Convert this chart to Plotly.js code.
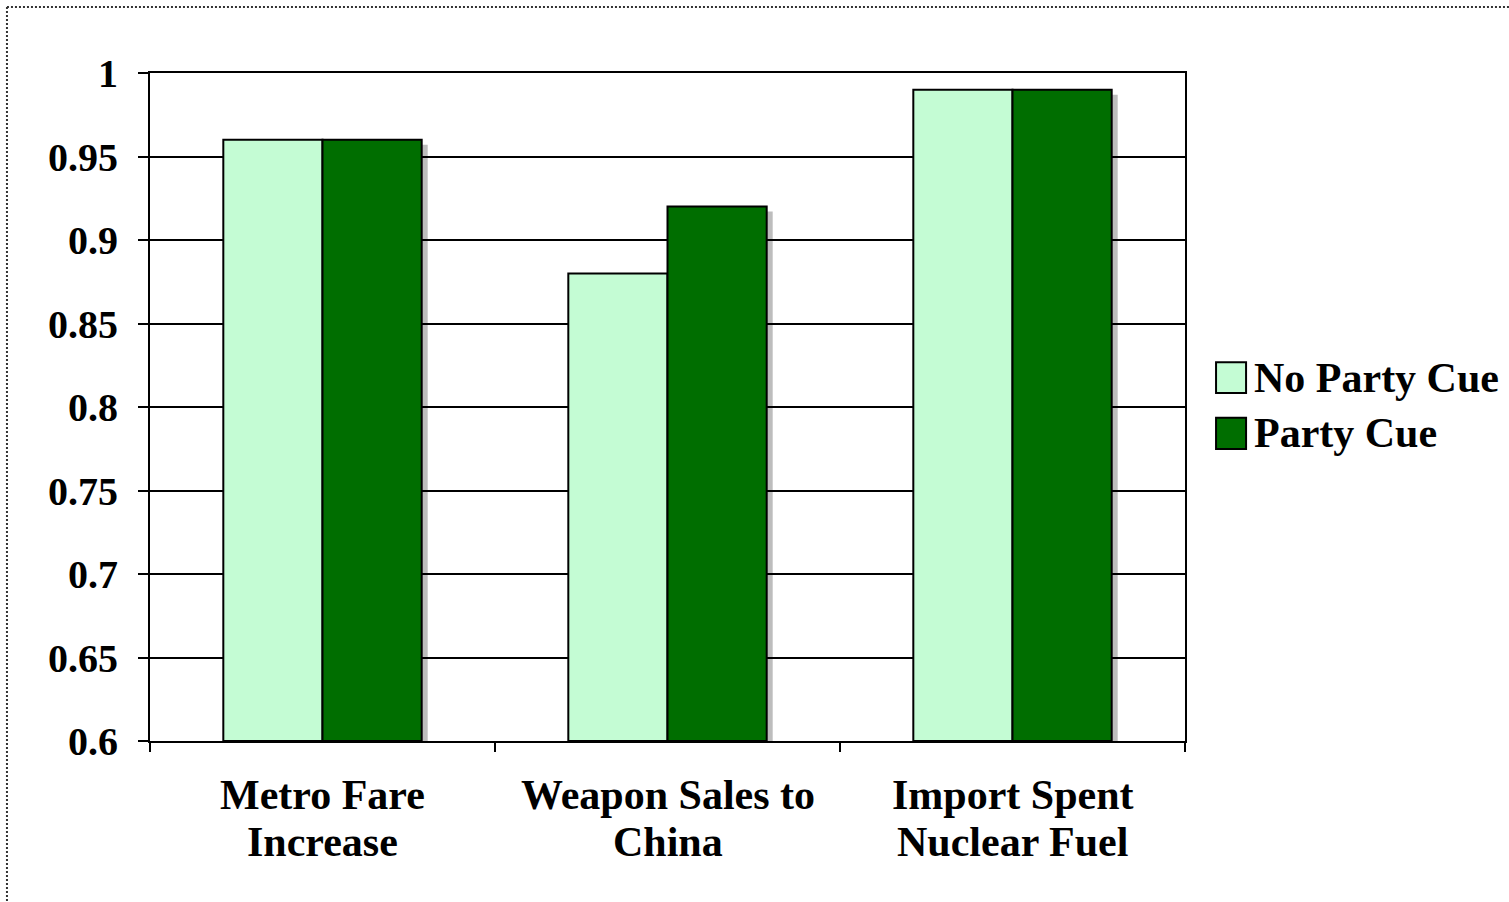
<!DOCTYPE html>
<html>
<head>
<meta charset="utf-8">
<script src="https://cdn.plot.ly/plotly-3.0.1.min.js"></script>
<style>
  html, body { margin: 0; padding: 0; background: #ffffff; }
  #chart { width: 1509px; height: 902px; }
</style>
</head>
<body>
<div id="chart"></div>
<script>
// ---- data ----
const categories = ['Metro Fare Increase', 'Weapon Sales to China', 'Import Spent Nuclear Fuel'];
const labelLine1 = ['Metro Fare', 'Weapon Sales to', 'Import Spent'];
const labelLine2 = ['Increase', 'China', 'Nuclear Fuel'];
const seriesNames = ['No Party Cue', 'Party Cue'];
const noPartyCue = [0.96, 0.88, 0.99];
const partyCue = [0.96, 0.92, 0.99];
const yTickValues = [0.6, 0.65, 0.7, 0.75, 0.8, 0.85, 0.9, 0.95, 1];
const yRange = [0.6, 1];

// ---- style ----
const lightGreen = '#C4FCD4';
const darkGreen = '#006E00';
const fontFamily = '"Liberation Serif", "Times New Roman", serif';
const bargap = 0.425;
const shadowDrop = 0.003;
const boldFont = (size) => ({ family: fontFamily, size: size, color: '#000000', weight: 'bold' });

const traces = [
  {
    type: 'bar', name: seriesNames[0], x: categories, y: noPartyCue, base: yRange[0],
    marker: { color: lightGreen, line: { color: '#000000', width: 2 } },
    hoverinfo: 'none', showlegend: false
  },
  {
    type: 'bar', name: seriesNames[1], x: categories, y: partyCue, base: yRange[0],
    marker: { color: darkGreen, line: { color: '#000000', width: 2 } },
    hoverinfo: 'none', showlegend: false
  }
];
// bars rise from the axis minimum
traces[0].y = noPartyCue.map(v => v - yRange[0]);
traces[1].y = partyCue.map(v => v - yRange[0]);
traces.forEach(t => { delete t.base; });

const shapes = [];
// bar shadows (right of the Party Cue bar)
partyCue.forEach((v, i) => {
  shapes.push({
    type: 'rect', layer: 'below',
    xref: 'x', xsizemode: 'pixel', xanchor: i + (1 - bargap) / 2,
    x0: -20, x1: 6,
    yref: 'y', y0: 0, y1: v - yRange[0] - shadowDrop,
    fillcolor: '#BDBDBD', line: { width: 0 }
  });
});
// dotted frame (top and left)
shapes.push({ type: 'line', xref: 'paper', yref: 'paper', x0: -0.1382, x1: 1.32, y0: 1.0988, y1: 1.0988,
  line: { color: '#333333', width: 2, dash: '2px,2px' } });
shapes.push({ type: 'line', xref: 'paper', yref: 'paper', x0: -0.1382, x1: -0.1382, y0: 1.0988, y1: -0.25,
  line: { color: '#333333', width: 2, dash: '2px,2px' } });

const annotations = [];
// custom legend
const legendColors = [lightGreen, darkGreen];
const legendY = [[0.521, 0.567], [0.437, 0.484]];
seriesNames.forEach((name, k) => {
  shapes.push({ type: 'rect', xref: 'paper', yref: 'paper', x0: 1.030, x1: 1.059,
    y0: legendY[k][0], y1: legendY[k][1], fillcolor: legendColors[k],
    line: { color: '#000000', width: 2 } });
  annotations.push({ xref: 'paper', yref: 'paper', x: 1.0648, y: (legendY[k][0] + legendY[k][1]) / 2,
    xanchor: 'left', yanchor: 'middle', showarrow: false, text: name, font: boldFont(42) });
});
// category labels (two lines each)
categories.forEach((c, i) => {
  annotations.push({ xref: 'x', yref: 'paper', x: c, y: -0.0808, xanchor: 'center', yanchor: 'middle',
    showarrow: false, text: labelLine1[i], font: boldFont(42) });
  annotations.push({ xref: 'x', yref: 'paper', x: c, y: -0.1512, xanchor: 'center', yanchor: 'middle',
    showarrow: false, text: labelLine2[i], font: boldFont(42) });
});

const layout = {
  width: 1509, height: 902,
  margin: { l: 150, r: 324, t: 73, b: 161, pad: 0 },
  paper_bgcolor: '#ffffff', plot_bgcolor: '#ffffff',
  barmode: 'group', bargap: bargap, bargroupgap: 0,
  showlegend: false,
  font: { family: fontFamily, color: '#000000' },
  xaxis: {
    type: 'category', tickson: 'boundaries', showticklabels: false,
    ticks: 'outside', ticklen: 9, tickwidth: 2, tickcolor: '#000000',
    showline: true, linecolor: '#000000', linewidth: 2, mirror: true,
    showgrid: false, zeroline: false
  },
  yaxis: {
    range: [0, yRange[1] - yRange[0]],
    tickvals: yTickValues.map(v => v - yRange[0]),
    ticktext: yTickValues.map(v => String(v)),
    ticks: 'outside', ticklen: 10, tickwidth: 2, tickcolor: '#000000',
    showline: true, linecolor: '#000000', linewidth: 2, mirror: true,
    showgrid: true, gridcolor: '#000000', gridwidth: 2, zeroline: false,
    tickfont: boldFont(40),
    ticklabelstandoff: 12
  },
  shapes: shapes,
  annotations: annotations
};

Plotly.newPlot('chart', traces, layout, { displayModeBar: false, staticPlot: true });
</script>
</body>
</html>
